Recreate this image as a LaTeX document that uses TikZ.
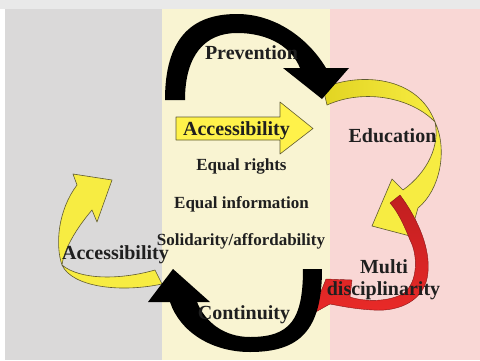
\documentclass[tikz,border=0pt]{standalone}
\usepackage{fontspec}
\setmainfont{Liberation Serif}
\definecolor{bggrey}{RGB}{218,217,217}
\definecolor{bgcream}{RGB}{249,244,210}
\definecolor{bgpink}{RGB}{249,215,213}
\definecolor{topbar}{RGB}{233,233,233}
\definecolor{ylw}{RGB}{247,236,66}
\definecolor{ylwdark}{RGB}{226,212,34}
\definecolor{ylwline}{RGB}{95,90,50}
\definecolor{redA}{RGB}{192,30,32}
\definecolor{redB}{RGB}{234,42,40}
\begin{document}
\begin{tikzpicture}[x=1pt,y=-1pt,
  lbl/.style={font=\fontsize{20}{22}\selectfont\bfseries, text=black!88, inner sep=0pt, anchor=base},
  item/.style={font=\fontsize{17}{19}\selectfont\bfseries, text=black!88, inner sep=0pt, anchor=base},
  yarrow/.style={fill=ylw, draw=ylwline, line width=0.6pt, line join=round},
  barrow/.style={fill=black},
  rarrow/.style={top color=redA, bottom color=redB, draw=redA!70!black, line width=0.4pt, line join=round},
]
\useasboundingbox (0,0) rectangle (480,360);
% background panels
\fill[white] (0,0) rectangle (480,360);
\fill[topbar] (0,0) rectangle (480,9);
\fill[bggrey] (5,9) rectangle (162,360);
\fill[bgcream] (162,9) rectangle (330,360);
\fill[bgpink] (330,9) rectangle (480,360);

% yellow arrow towards Multidisciplinarity (Education)
\path[yarrow, left color=ylwdark, right color=ylw]
  (323,88) .. controls (360,72) and (418,76) .. (435,122)
  .. controls (412,98) and (365,88) .. (327,105) -- cycle;
\path[yarrow]
  (435,122) .. controls (448,150) and (440,190) .. (418,208)
  -- (410,236) -- (372,226) -- (392,179) -- (403,190)
  .. controls (428,172) and (440,145) .. (435,122) -- cycle;

% red arrow (Multi disciplinarity)
\path[rarrow]
  (390,203) -- (400,195) .. controls (420,222) and (430,250) .. (428,272)
  .. controls (426,300) and (400,312) .. (373,310)
  .. controls (355,309) and (340,306) .. (330,304)
  -- (312,314) -- (326,279) -- (352,280) -- (350,297)
  .. controls (365,302) and (390,302) .. (404,293)
  .. controls (418,282) and (418,255) .. (410,240)
  .. controls (404,225) and (398,212) .. (390,203) -- cycle;

% yellow arrow on the left (Accessibility)
\path[yarrow]
  (77,185) -- (73,174) -- (112,180) -- (97,222) -- (92,210)
  .. controls (75,230) and (64,250) .. (62,265)
  .. controls (55,245) and (58,210) .. (77,185) -- cycle;
\path[yarrow]
  (62,265) .. controls (72,287) and (120,293) .. (162,284)
  -- (155,270) .. controls (120,280) and (80,280) .. (62,265) -- cycle;

% black arrow at the top (Prevention)
\path[barrow]
  (165,100) .. controls (165,40) and (190,14) .. (237,14)
  .. controls (275,14) and (308,38) .. (326,68)
  -- (349,68) -- (322,99) -- (283,68) -- (300,68)
  .. controls (292,48) and (270,33) .. (237,33)
  .. controls (205,33) and (185,55) .. (185,100) -- cycle;

% black arrow at the bottom (Continuity)
\path[barrow]
  (170,302) .. controls (180,332) and (212,352) .. (250,352)
  .. controls (300,352) and (322,330) .. (322,269)
  -- (303,269) .. controls (303,320) and (290,337) .. (250,337)
  .. controls (224,337) and (205,322) .. (197,302)
  -- (210,302) -- (173,269) -- (148,302) -- cycle;

% straight yellow arrow
\path[yarrow, fill={rgb,255:red,255;green,242;blue,74}]
  (176,117) -- (280,117) -- (280,102) -- (313,128.5) -- (280,154) -- (280,140) -- (176,140) -- cycle;

% texts
\node[lbl] (prev) at (251.5,59) {Prevention};
\node[lbl] (acc1) at (236.5,135) {Accessibility};
\node[item] (eqr) at (241.5,170) {Equal rights};
\node[item] (eqi) at (241.5,208) {Equal information};
\node[item] (sol) at (241,245) {Solidarity/affordability};
\node[lbl] (edu) at (392.5,142) {Education};
\node[lbl] (acc2) at (115.5,259) {Accessibility};
\node[lbl] (cont) at (244,319) {Continuity};
\node[lbl] (multi) at (384,273) {Multi};
\node[lbl] (disc) at (383.5,295) {disciplinarity};
\end{tikzpicture}
\end{document}
